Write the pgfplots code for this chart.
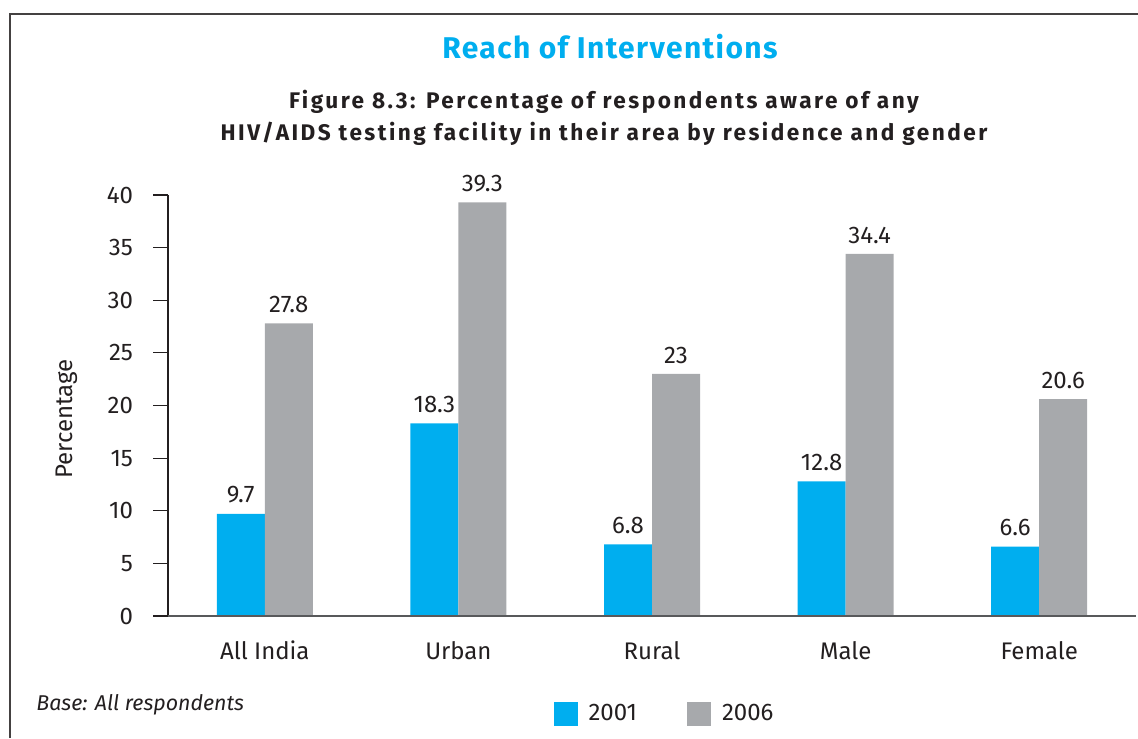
\documentclass[border=0pt]{standalone}
\usepackage{pgfplots}
\pgfplotsset{compat=1.18}
\usepackage{fontspec}
\setmainfont{Fira Sans}
\definecolor{cyanb}{HTML}{00AEEF}
\definecolor{grayb}{HTML}{A7A9AC}
\definecolor{txt}{HTML}{231F20}
\definecolor{axgray}{HTML}{58595B}
\begin{document}
\begin{tikzpicture}
\useasboundingbox (0,0) rectangle (569pt,369pt);
\draw[color=txt!85, line width=0.8pt] (5pt,0) -- (5pt,362pt) -- (569pt,362pt);
\node[font=\fontsize{15}{17}\selectfont\bfseries\addfontfeatures{LetterSpace=4.6}, text=cyanb] at (305pt,345.5pt) {Reach of Interventions};
\node[font=\fontsize{11.3}{16}\selectfont\bfseries\addfontfeatures{LetterSpace=11}, text=txt, align=center] at (302pt,310pt)
  {Figure 8.3: Percentage of respondents aware of any\\HIV/AIDS testing facility in their area by residence and gender};
\node[font=\fontsize{10.7}{13}\selectfont\itshape, text=txt, anchor=west, inner sep=0pt] at (18pt,16.7pt) {Base: All respondents};
\node[font=\fontsize{12}{14}\selectfont, text=txt, rotate=90] at (33.5pt,159.5pt) {Percentage};
\begin{axis}[
  at={(84pt,61pt)}, anchor=south west,
  scale only axis, width=484pt, height=210.5pt,
  ybar=0pt, bar width=24pt,
  xmin=-0.5, xmax=4.5, ymin=0, ymax=40,
  axis x line*=bottom, axis y line*=left,
  x axis line style={draw=none},
  y axis line style={-, color=txt, line width=0.6pt},
  xtick={0,1,2,3,4},
  xticklabels={All India,Urban,Rural,Male,Female},
  x tick style={draw=none},
  extra x ticks={-0.5,0.5,1.5,2.5,3.5,4.5},
  extra x tick labels={},
  extra x tick style={major tick length=4pt, tick style={draw=txt, line width=0.6pt}},
  ytick={0,5,...,40},
  tick align=outside,
  y tick style={draw=txt, line width=0.6pt},
  major tick length=7.5pt,
  ticklabel style={font=\fontsize{12}{14}\selectfont, text=txt},
  xticklabel style={yshift=-1.5pt},
  yticklabel style={xshift=-6.5pt},
  /pgf/number format/assume math mode=true,
  nodes near coords,
  every node near coord/.append style={font=\fontsize{12}{14}\selectfont, text=txt, inner sep=0pt, yshift=5pt},
  legend columns=2,
  legend style={at={(0.514,-0.233)}, anchor=center, draw=none, fill=none,
    font=\fontsize{12}{14}\selectfont, text=txt,
    /tikz/every odd column/.append style={column sep=3.5pt},
    /tikz/every even column/.append style={column sep=23pt}},
  legend image code/.code={\fill[#1] (0pt,-6pt) rectangle (12pt,6pt);},
]
\addplot[fill=cyanb, draw=none] coordinates {(0,9.7) (1,18.3) (2,6.8) (3,12.8) (4,6.6)};
\addplot[fill=grayb, draw=none] coordinates {(0,27.8) (1,39.3) (2,23) (3,34.4) (4,20.6)};
\legend{2001,2006}
\draw[color=axgray, line width=0.8pt] ([xshift=-7.5pt]axis cs:-0.5,0) -- (axis cs:4.5,0);
\end{axis}
\end{tikzpicture}
\end{document}
